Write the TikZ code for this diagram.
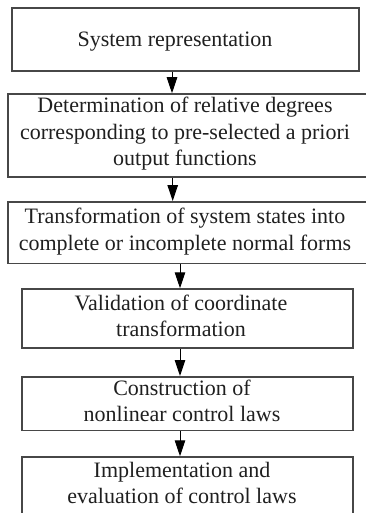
\documentclass[tikz,border=0pt]{standalone}
\usepackage{fontspec}
\setmainfont{Liberation Serif}
\usetikzlibrary{arrows.meta}
\begin{document}
\begin{tikzpicture}[x=1pt,y=-1pt,
  box/.style={draw=black!72,line width=1.5pt,inner sep=0pt},
  txt/.style={align=center,inner sep=0pt,font=\fontsize{22}{26.7}\selectfont,text=black!88},
  arr/.style={line width=1pt,black,-{Triangle[length=16pt,width=10.5pt]}}]
\useasboundingbox (0,0) rectangle (365,513);
% boxes
\node[box,minimum width=347pt,minimum height=63pt] (b1) at (185.5,39.5) {};
\node[box,minimum width=364pt,minimum height=83pt] (b2) at (190,135.5) {};
\node[box,minimum width=364pt,minimum height=61.5pt] (b3) at (190,232.5) {};
\node[box,minimum width=331pt,minimum height=59pt] (b4) at (187.5,318.5) {};
\node[box,minimum width=331pt,minimum height=53.5pt] (b5) at (187.5,403.5) {};
\node[box,minimum width=331pt,minimum height=73pt] (b6) at (187.5,493.5) {};
% texts
\node[txt,anchor=base] (t1) at (175,46.7) {System representation};
\node[txt] (t2) at (185,133.6) {Determination of relative degrees\\corresponding to pre-selected a priori\\output functions};
\node[txt] (t3) at (185,231.8) {Transformation of system states into\\complete or incomplete normal forms};
\node[txt] (t4) at (181,315.9) {Validation of coordinate\\transformation};
\node[txt] (t5) at (182,400.9) {Construction of\\nonlinear control laws};
\node[txt] (t6) at (182,483.1) {Implementation and\\evaluation of control laws};
% arrow columns
\coordinate (xa) at (172,0);
\coordinate (xb) at (172.7,0);
\coordinate (xc) at (180,0);
\draw[arr] (b1.south -| xa) -- (b2.north -| xa);
\draw[arr] (b2.south -| xb) -- (b3.north -| xb);
\draw[arr] (b3.south -| xc) -- (b4.north -| xc);
\draw[arr] (b4.south -| xc) -- (b5.north -| xc);
\draw[arr] (b5.south -| xc) -- (b6.north -| xc);
\end{tikzpicture}
\end{document}
